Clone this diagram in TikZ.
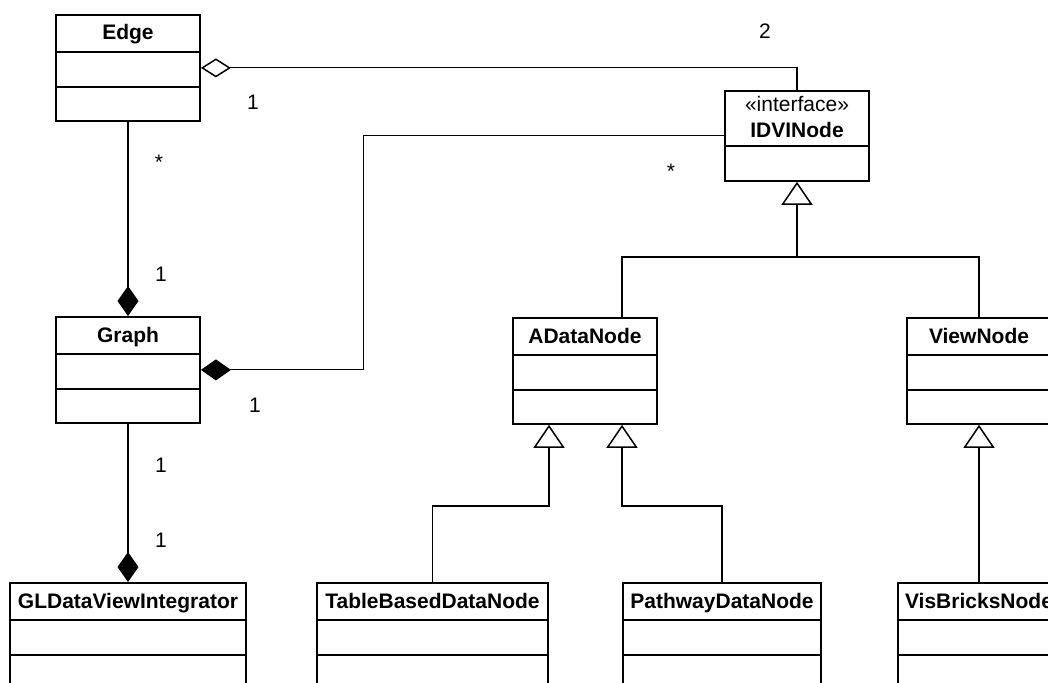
\documentclass[tikz,border=0pt]{standalone}
\usepackage{fontspec}
\setmainfont{Liberation Sans}
\usetikzlibrary{arrows.meta,calc}

% horizontal compartment rules of a class box
\newcommand{\classrules}[1]{%
  \draw[classline] ($(#1.north west)+(0,38)$) -- ($(#1.north east)+(0,38)$)
                   ($(#1.north west)+(0,73)$) -- ($(#1.north east)+(0,73)$);}

\begin{document}
\begin{tikzpicture}[x=1pt,y=-1pt,
  classbox/.style={draw, line width=1.8pt, inner sep=0pt, anchor=north, minimum height=106pt},
  classline/.style={line width=1.8pt},
  classname/.style={font=\fontsize{21}{25}\selectfont\bfseries, anchor=base, inner sep=0pt},
  stereo/.style={font=\fontsize{21}{25}\selectfont, anchor=base, inner sep=0pt},
  mult/.style={font=\fontsize{21}{25}\selectfont, anchor=base, inner sep=0pt},
  link/.style={line width=1.1pt},
  aggregation/.style={link, -{Diamond[open, length=30pt, width=19pt, line width=1.5pt]}},
  composition/.style={link, -{Diamond[length=30pt, width=21pt]}},
  generalization/.style={link, -{Triangle[open, length=23pt, width=31pt, line width=1.5pt]}},
]
\clip (0,0) rectangle (1048,682);

% ---- classes ----
\node[classbox, minimum width=144pt] (edge) at (128,14) {};
\node[classname] (edge-name) at ($(edge.north)+(0,26)$) {Edge};
\classrules{edge}

\node[classbox, minimum width=144pt, minimum height=90pt] (idvi) at (797,90) {};
\node[stereo] (idvi-stereo) at ($(idvi.north)+(0,22)$) {«interface»};
\node[classname] (idvi-name) at ($(idvi.north)+(0,47)$) {IDVINode};
\draw[classline] ($(idvi.north west)+(0,56)$) -- ($(idvi.north east)+(0,56)$);

\node[classbox, minimum width=144pt] (graph) at (128,316) {};
\node[classname] (graph-name) at ($(graph.north)+(0,26)$) {Graph};
\classrules{graph}

\node[classbox, minimum width=144pt] (adata) at (585,317) {};
\node[classname] (adata-name) at ($(adata.north)+(0,26)$) {ADataNode};
\classrules{adata}

\node[classbox, minimum width=144pt] (view) at (979,317) {};
\node[classname] (view-name) at ($(view.north)+(0,26)$) {ViewNode};
\classrules{view}

\node[classbox, minimum width=236pt] (gldvi) at (128,582) {};
\node[classname] (gldvi-name) at ($(gldvi.north)+(0,26)$) {GLDataViewIntegrator};
\classrules{gldvi}

\node[classbox, minimum width=231pt] (tbdn) at (432.5,582) {};
\node[classname] (tbdn-name) at ($(tbdn.north)+(0,26)$) {TableBasedDataNode};
\classrules{tbdn}

\node[classbox, minimum width=198pt] (pdn) at (722,582) {};
\node[classname] (pdn-name) at ($(pdn.north)+(0,26)$) {PathwayDataNode};
\classrules{pdn}

\node[classbox, minimum width=162pt] (vbn) at (979,582) {};
\node[classname] (vbn-name) at ($(vbn.north)+(0,26)$) {VisBricksNode};
\classrules{vbn}

% ---- associations ----
\draw[aggregation] (idvi.north) |- (edge.east);
\draw[composition] (idvi.west) -| ($(graph.east)+(163,0)$) -- (graph.east);
\draw[composition] (edge.south) -- (graph.north);
\draw[composition] (graph.south) -- (gldvi.north);

% ---- inheritance ----
\coordinate (hub) at (797,257);
\draw[link] ($(adata.north)+(37,0)$) |- (hub);
\draw[link] (view.north) |- (hub);
\draw[generalization] (hub) -- (idvi.south);

\coordinate (tbjoin) at (549,506);
\coordinate (pjoin) at (622,506);
\draw[generalization] (tbdn.north) |- (tbjoin) -- (tbjoin |- adata.south);
\draw[generalization] (pdn.north) |- (pjoin) -- (pjoin |- adata.south);
\draw[generalization] (vbn.north) -- (view.south);

% ---- multiplicities ----
\node[mult] (m-edge-idvi) at (765,39) {2};
\node[mult] (m-idvi-edge) at (253,110) {1};
\node[mult] (m-edge-graph) at (159,169) {*};
\node[mult] (m-graph-edge) at (161,281) {1};
\node[mult] (m-idvi-graph) at (671,178) {*};
\node[mult] (m-graph-idvi) at (255,412) {1};
\node[mult] (m-graph-gl) at (161,472) {1};
\node[mult] (m-gl-graph) at (161,547) {1};
\end{tikzpicture}
\end{document}
